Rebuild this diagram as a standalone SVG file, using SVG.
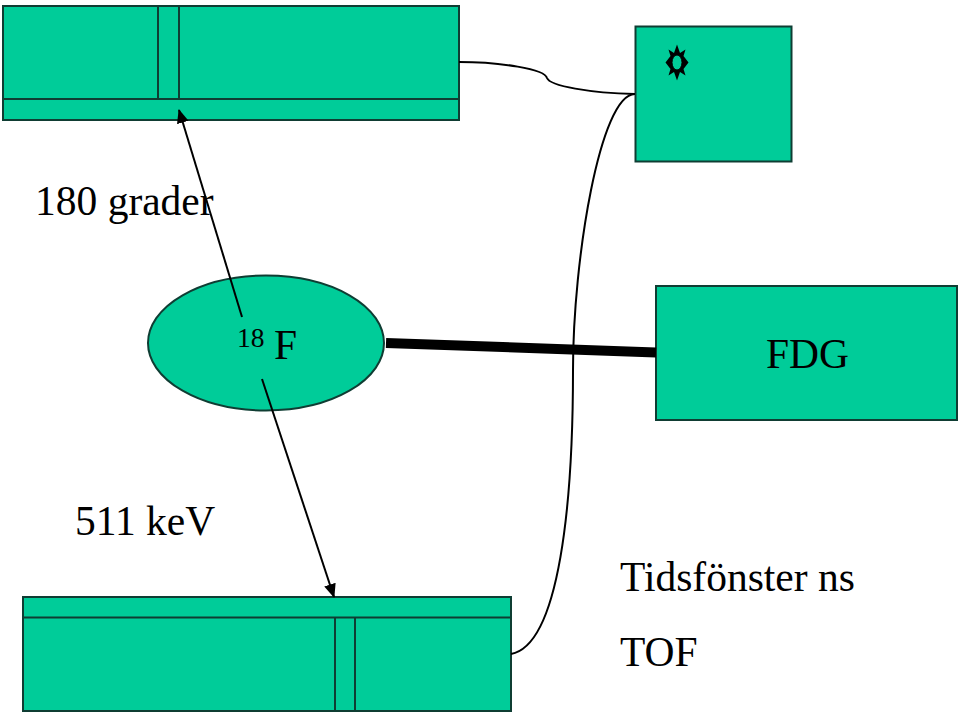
<svg xmlns="http://www.w3.org/2000/svg" width="960" height="714" viewBox="0 0 960 714">
<style>
.n{fill:#00cc99;stroke:#0f3d33;stroke-width:2}
.l{fill:none;stroke:#0f3d33;stroke-width:2}
.c{fill:none;stroke:#000;stroke-width:2}
text{font-family:"Liberation Serif","Times New Roman",serif;fill:#000;font-size:41.500px}
</style>
<defs><marker id="a" markerUnits="userSpaceOnUse" markerWidth="16" markerHeight="16" refX="13" refY="6" orient="auto"><path d="M0 0L14 6L0 12Z" fill="#000"/></marker></defs>
<rect width="960" height="714" fill="#fff"/>
<g id="top-detector"><rect class="n" x="3" y="6" width="456" height="114"/><path class="l" d="M3 99H459M158 6V99M179 6V99"/></g>
<g id="bottom-detector"><rect class="n" x="23" y="597" width="488" height="114"/><path class="l" d="M23 617.500H511M335 617.500V711M355 617.500V711"/></g>
<g id="timer"><rect class="n" x="635.500" y="26.500" width="156" height="135"/>
<g transform="translate(677 62.500)"><path d="M0-18L3-9.500L8.500-13L6.500-6.500L11.500 0L6.500 6.500L8.500 13L3 9.500L0 18L-3 9.500L-8.500 13L-6.500 6.500L-11.500 0L-6.500-6.500L-8.500-13L-3-9.500Z" fill="#000"/><ellipse cx="0" cy="0" rx="5" ry="7.500" fill="#00cc99" stroke="#000" stroke-width="1"/></g></g>
<g id="fdg"><rect class="n" x="656" y="286" width="301" height="134"/><text x="766" y="368">FDG</text></g>
<g id="f18"><ellipse class="n" cx="266" cy="343" rx="118" ry="67.500"/><text x="237" y="347" style="font-size:27.500px">18</text><text x="274" y="359">F</text></g>
<g id="connectors">
<path class="c" d="M242 317L179 110" marker-end="url(#a)"/>
<path class="c" d="M262 379L334 597" marker-end="url(#a)"/>
<path d="M386 343L656 352.500" fill="none" stroke="#000" stroke-width="10"/>
<path class="c" d="M459 62C500 62 545 69 547 78C550 86 590 93 635 94"/>
<path class="c" d="M635 94C600 94 573 260 573 370C573 500 560 645 511 654"/>
</g>
<text x="35" y="215">180 grader</text>
<text x="75" y="535">511 keV</text>
<text x="620" y="591">Tidsfönster ns</text>
<text x="620" y="666">TOF</text>
</svg>
